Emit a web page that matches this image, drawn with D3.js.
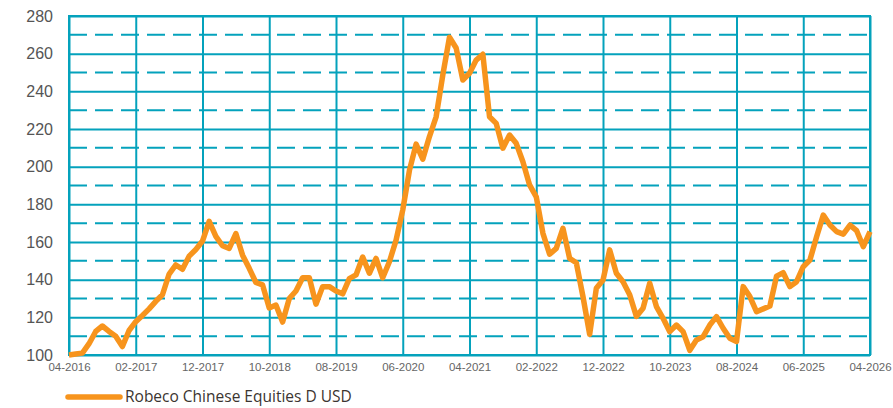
<!DOCTYPE html>
<html>
<head>
<meta charset="utf-8">
<script src="https://cdn.jsdelivr.net/npm/d3@7"></script>
<style>
  body { margin: 0; background: #fff; }
  svg { display: block; font-family: "Open Sans", "Noto Sans", sans-serif; }
</style>
</head>
<body>
<script>
// monthly index values, 04-2016 .. 04-2026
var values = [
  100, 100.5, 101, 106, 112.5, 115.4, 112.5, 110, 104.5, 113,
  117.7, 121, 124.5, 128.5, 132, 143, 147.8, 145.5, 152.5, 156,
  160.5, 171, 163, 158, 156.6, 164.5, 153, 146, 138.5, 137.2,
  125, 126.5, 117.5, 130, 134, 141, 141, 127, 136.3, 136.3,
  134, 132.5, 140.5, 142.5, 152, 143.4, 151.3, 141, 149.5, 161,
  177, 198, 212, 204, 216, 226.5, 248.7, 268.7, 263, 246,
  249.6, 256.6, 259.7, 226.5, 223, 209.8, 216.8, 212.4, 202.6, 190.3,
  184, 164.6, 153.5, 156.6, 167.3, 151.3, 149, 131, 111, 135.4,
  139.8, 155.8, 143.4, 138.9, 132, 120.5, 124.8, 138.1, 125.7, 119.5,
  112.4, 115.9, 112.4, 102.5, 108, 109.7, 115.9, 120.4, 114.2, 108.9,
  107.1, 136.3, 131, 123, 124.5, 126, 141.9, 143.7, 136.3, 138.9,
  146.9, 150.4, 162.8, 174.3, 169, 165.5, 164.2, 169, 166, 157.5,
  165.5
];
var tickMonths = [0, 10, 20, 30, 40, 50, 60, 70, 80, 90, 100, 110, 120];
var tickLabels = ["04-2016", "02-2017", "12-2017", "10-2018", "08-2019", "06-2020", "04-2021",
                  "02-2022", "12-2022", "10-2023", "08-2024", "06-2025", "04-2026"];
var yTicks = [100, 120, 140, 160, 180, 200, 220, 240, 260, 280];
var yDashed = [110, 130, 150, 170, 190, 210, 230, 250, 270];
var seriesName = "Robeco Chinese Equities D USD";

var width = 893, height = 408;
var margin = {left: 69, right: 23, top: 16, bottom: 53};
var grid = "#04a2bc", orange = "#f7941d";

var svg = d3.select("body").append("svg").attr("width", width).attr("height", height);
var chartGroup = svg.append("g");

var x = d3.scaleLinear().domain([0, 120]).range([margin.left, width - margin.right]);
var y = d3.scaleLinear().domain([100, 280]).range([height - margin.bottom, margin.top]);

// dashed minor grid
chartGroup.append("g").selectAll("line")
  .data(yDashed).enter().append("line")
    .attr("x1", x(0)).attr("x2", x(120))
    .attr("y1", function(d){ return y(d); })
    .attr("y2", function(d){ return y(d); })
    .attr("stroke", grid).attr("stroke-width", 2)
    .attr("stroke-dasharray", "18,8");

// solid horizontal grid + y labels
var yAxis = chartGroup.append("g")
  .attr("transform", "translate(" + x(0) + ",0)")
  .call(d3.axisLeft(y).tickValues(yTicks).tickSize(-(x(120) - x(0))).tickPadding(16));
yAxis.select(".domain").remove();
yAxis.selectAll(".tick line").attr("stroke", grid).attr("stroke-width", 2);
yAxis.selectAll(".tick text").attr("fill", "#555").style("font-size", "16px");

// vertical grid + x labels
var xAxis = chartGroup.append("g")
  .attr("transform", "translate(0," + y(100) + ")")
  .call(d3.axisBottom(x).tickValues(tickMonths)
        .tickFormat(function(d, i){ return tickLabels[i]; })
        .tickSize(-(y(100) - y(280))).tickPadding(8));
xAxis.select(".domain").remove();
xAxis.selectAll(".tick line").attr("stroke", grid).attr("stroke-width", 2);
xAxis.selectAll(".tick text").attr("fill", "#666").style("font-size", "11.5px");

// frame
chartGroup.append("rect")
  .attr("x", x(0)).attr("y", y(280))
  .attr("width", x(120) - x(0)).attr("height", y(100) - y(280))
  .attr("fill", "none").attr("stroke", grid).attr("stroke-width", 2);

var line = d3.line()
  .x(function(d, i){ return x(i); })
  .y(function(d){ return y(d); });

chartGroup.append("path")
  .attr("fill", "none")
  .attr("stroke", orange)
  .attr("stroke-width", 5.5)
  .attr("stroke-linejoin", "round")
  .attr("d", line(values));

// legend
var legend = svg.append("g").attr("transform", "translate(66,397)");
legend.append("line")
  .attr("x1", 2).attr("x2", 54).attr("y1", 0).attr("y2", 0)
  .attr("stroke", orange).attr("stroke-width", 5.5).attr("stroke-linecap", "round");
legend.append("text")
  .attr("x", 59).attr("y", 0).attr("dy", "0.34em")
  .attr("fill", "#3b3530").style("font-size", "15.5px")
  .text(seriesName);
</script>
</body>
</html>
